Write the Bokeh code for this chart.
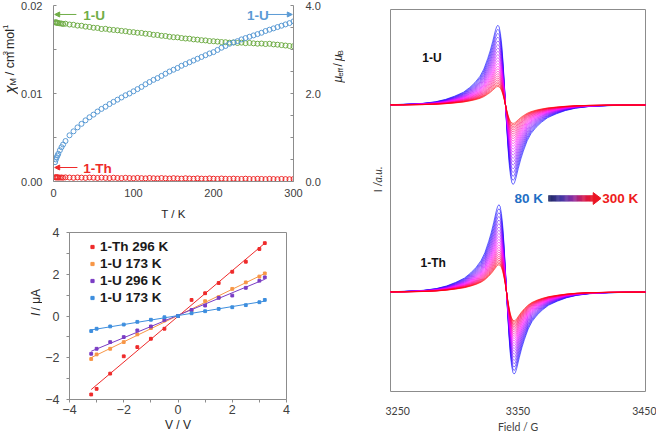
import numpy as np
from bokeh.core.properties import value
from bokeh.embed import file_html
from bokeh.layouts import column, row
from bokeh.models import (Arrow, FixedTicker, Label, Legend, LegendItem, LinearAxis,
                          NormalHead, PrintfTickFormatter, Range1d)
from bokeh.plotting import figure
from bokeh.resources import INLINE

# ---------------- magnetic data (T / K, chi_M / cm3 mol-1, mu_eff / mu_B) ----------------
temperature_K = [2, 3, 4, 5, 6, 8, 10, 12, 15, 20, 25,
                 30, 35, 40, 45, 50, 55, 60, 65, 70, 75, 80,
                 85, 90, 95, 100, 105, 110, 115, 120, 125, 130, 135,
                 140, 145, 150, 155, 160, 165, 170, 175, 180, 185, 190,
                 195, 200, 205, 210, 215, 220, 225, 230, 235, 240, 245,
                 250, 255, 260, 265, 270, 275, 280, 285, 290, 295, 300]

mu_eff_1U = [0.44, 0.50, 0.55, 0.59, 0.63, 0.71, 0.78, 0.84, 0.92, 1.05, 1.14,
             1.23, 1.31, 1.39, 1.46, 1.52, 1.59, 1.65, 1.70, 1.76, 1.81, 1.86,
             1.91, 1.96, 2.00, 2.05, 2.10, 2.15, 2.21, 2.26, 2.31, 2.35, 2.40,
             2.45, 2.50, 2.54, 2.58, 2.63, 2.67, 2.71, 2.75, 2.79, 2.83, 2.87,
             2.91, 2.94, 2.99, 3.04, 3.08, 3.13, 3.16, 3.19, 3.23, 3.26, 3.29,
             3.32, 3.35, 3.38, 3.42, 3.45, 3.48, 3.51, 3.54, 3.57, 3.60, 3.64]

chi_M_1U = [0.01810, 0.01805, 0.01808, 0.01802, 0.01800, 0.01797, 0.01795, 0.01790, 0.01793, 0.01784, 0.01781,
            0.01772, 0.01770, 0.01760, 0.01756, 0.01747, 0.01745, 0.01733, 0.01735, 0.01726, 0.01722, 0.01718,
            0.01712, 0.01708, 0.01700, 0.01697, 0.01690, 0.01688, 0.01680, 0.01676, 0.01667, 0.01665, 0.01656,
            0.01653, 0.01645, 0.01640, 0.01638, 0.01630, 0.01625, 0.01623, 0.01615, 0.01612, 0.01606, 0.01603,
            0.01596, 0.01594, 0.01590, 0.01585, 0.01583, 0.01578, 0.01580, 0.01574, 0.01578, 0.01572, 0.01575,
            0.01570, 0.01566, 0.01568, 0.01562, 0.01565, 0.01558, 0.01555, 0.01550, 0.01545, 0.01540, 0.01538]

chi_M_1Th = [0.00048, 0.00046, 0.00049, 0.00045, 0.00047, 0.00044, 0.00046, 0.00043, 0.00047, 0.00045, 0.00042,
             0.00046, 0.00044, 0.00041, 0.00045, 0.00043, 0.00040, 0.00044, 0.00041, 0.00039, 0.00043, 0.00040,
             0.00038, 0.00042, 0.00039, 0.00037, 0.00041, 0.00038, 0.00036, 0.00040, 0.00037, 0.00035, 0.00039,
             0.00036, 0.00034, 0.00038, 0.00035, 0.00033, 0.00037, 0.00034, 0.00032, 0.00036, 0.00033, 0.00031,
             0.00035, 0.00032, 0.00030, 0.00034, 0.00031, 0.00030, 0.00033, 0.00030, 0.00029, 0.00032, 0.00029,
             0.00028, 0.00031, 0.00029, 0.00027, 0.00030, 0.00028, 0.00026, 0.00029, 0.00027, 0.00026, 0.00028]

# ---------------- current-voltage curves (V / V, I / uA) ----------------
bias_V = [-3.2, -3.0, -2.5, -2.0, -1.5, -1.0, -0.5, 0.0, 0.5, 1.0, 1.5, 2.0, 2.5, 3.0, 3.2]
iv_labels = ["1-Th 296 K", "1-U 173 K", "1-U 296 K", "1-U 173 K"]
current_1Th_296K = [-3.76, -3.49, -2.76, -1.93, -1.49, -1.09, -0.61, 0.0, 0.77, 1.09, 1.58, 2.12, 2.60, 3.21, 3.49]
current_1U_173K_a = [-2.06, -1.84, -1.57, -1.25, -0.88, -0.58, -0.21, 0.0, 0.26, 0.71, 0.90, 1.30, 1.61, 1.89, 2.04]
current_1U_296K = [-1.81, -1.57, -1.25, -1.01, -0.69, -0.50, -0.18, 0.0, 0.29, 0.50, 0.87, 0.98, 1.35, 1.69, 1.85]
current_1U_173K_b = [-0.72, -0.61, -0.50, -0.41, -0.28, -0.18, -0.06, 0.0, 0.13, 0.23, 0.34, 0.42, 0.52, 0.66, 0.77]

# ---------------- variable-temperature EPR (field / G, intensity / a.u.) ----------------
epr_temperature_K = [80, 90, 100, 110, 120, 130, 140, 150, 160, 170, 180, 190,
                     200, 210, 220, 230, 240, 250, 260, 270, 280, 290, 300]
epr_1U_peak = [8.10, 7.69, 7.28, 6.89, 6.51, 6.14, 5.79, 5.45, 5.12, 4.80, 4.50, 4.21,
               3.93, 3.67, 3.42, 3.18, 2.95, 2.74, 2.54, 2.35, 2.18, 2.02, 1.88]
epr_1U_trough = [8.07, 7.65, 7.25, 6.86, 6.48, 6.11, 5.76, 5.42, 5.09, 4.78, 4.48, 4.19,
                 3.92, 3.66, 3.41, 3.17, 2.94, 2.73, 2.53, 2.35, 2.18, 2.02, 1.87]
epr_1Th_peak = [8.87, 8.46, 8.06, 7.68, 7.31, 6.95, 6.60, 6.27, 5.95, 5.64, 5.34, 5.06,
                4.79, 4.53, 4.28, 4.05, 3.83, 3.62, 3.43, 3.24, 3.07, 2.91, 2.77]
epr_1Th_trough = [8.33, 7.97, 7.62, 7.28, 6.95, 6.63, 6.32, 6.02, 5.74, 5.47, 5.21, 4.96,
                  4.72, 4.49, 4.27, 4.06, 3.86, 3.68, 3.51, 3.35, 3.20, 3.05, 2.92]
epr_center_1U_G = 3340.2
epr_center_1Th_G = 3341.0
# normalised first-derivative line profile versus distance from the centre field
profile_offset_G = [0, 1, 2, 3, 4, 5, 6, 7, 8, 10, 12, 14, 17, 20, 24, 28, 33, 40, 47, 55, 65, 80, 100, 120]
profile_value = [0.0, 0.29, 0.55, 0.76, 0.90, 0.98, 1.0, 0.98, 0.93, 0.80, 0.68, 0.58, 0.45, 0.36,
                 0.28, 0.22, 0.16, 0.11, 0.07, 0.04, 0.02, 0.008, 0.002, 0.0]

FONT = "Liberation Sans"
GREY = "#8c8c8c"
TICK_COLOR = "#404040"
TEXT = "#262626"
GREEN, BLUE, RED = "#70ad47", "#5b9bd5", "#ee2a2a"


def style_axis(ax, size="11px", font=FONT):
    ax.axis_line_color = GREY
    ax.major_tick_line_color = GREY
    ax.minor_tick_line_color = GREY
    ax.major_label_text_font = font
    ax.major_label_text_font_size = size
    ax.major_label_text_color = TICK_COLOR


def data_label(p, x, y, text, size, color, style="bold"):
    p.add_layout(Label(x=x, y=y, text=text, text_font=FONT, text_font_size=f"{size}px",
                       text_font_style=style, text_color=color, text_align="left",
                       text_baseline="middle"))


def title_strip(w, h):
    """Narrow text-only panel holding a rotated axis title."""
    s = figure(width=w, height=h, x_range=Range1d(0, w), y_range=Range1d(0, h),
               x_axis_type=None, y_axis_type=None, output_backend="svg",
               toolbar_location=None, min_border=0)
    s.outline_line_color = None
    s.grid.visible = False
    return s


def vertical_title(s, x, pieces, color=TEXT, font=FONT):
    """pieces: (text, size px, style, sideways shift px, start height px from the bottom)."""
    for text, size, style, shift, y in pieces:
        s.text(x=[x + shift], y=[y], text=[text], angle=np.pi / 2,
               text_font=value(font), text_font_size=value(f"{size}px"),
               text_font_style=value(style), text_color=color,
               text_align="left", text_baseline="middle")


# ======================= chi_M / mu_eff versus T =======================
p1 = figure(width=310, height=222, x_range=Range1d(0, 300), y_range=Range1d(0, 0.02),
            output_backend="svg", toolbar_location=None,
            min_border_left=34, min_border_right=35, min_border_top=5, min_border_bottom=41)
p1.extra_y_ranges = {"mu": Range1d(0, 4)}
p1.add_layout(LinearAxis(y_range_name="mu"), "right")
p1.outline_line_color = None
p1.grid.visible = False
for ax in p1.axis:
    style_axis(ax)

xa = p1.below[0]
xa.ticker = FixedTicker(ticks=[0, 100, 200, 300])
xa.major_tick_in = xa.major_tick_out = xa.minor_tick_in = xa.minor_tick_out = 0
xa.major_label_standoff = 7
xa.axis_label = "T / K"
xa.axis_label_text_font = FONT
xa.axis_label_text_font_size = "11.5px"
xa.axis_label_text_font_style = "normal"
xa.axis_label_text_color = TEXT
xa.axis_label_standoff = 8

left = p1.left[0]
left.ticker = FixedTicker(ticks=[0, 0.01, 0.02], minor_ticks=[0.005, 0.015])
left.formatter = PrintfTickFormatter(format="%.2f")
left.major_tick_in = left.minor_tick_in = 3
left.major_tick_out = left.minor_tick_out = 0
left.major_label_standoff = 11

right = p1.right[0]
right.ticker = FixedTicker(ticks=[0, 2, 4], minor_ticks=[0.5, 1, 1.5, 2.5, 3, 3.5])
right.formatter = PrintfTickFormatter(format="%.1f")
right.major_tick_in = right.minor_tick_in = 3
right.major_tick_out = right.minor_tick_out = 0
right.major_label_standoff = 12

p1.scatter(temperature_K, chi_M_1U, marker="circle", size=5, line_color=GREEN,
           fill_color=None, line_width=1)
p1.scatter(temperature_K, mu_eff_1U, y_range_name="mu", marker="circle", size=5,
           line_color=BLUE, fill_color=None, line_width=1)
p1.scatter(temperature_K, chi_M_1Th, marker="circle", size=5, line_color=RED,
           fill_color=None, line_width=1)

for col, xs, xe, yy in [(GREEN, 28.6, 1.5, 0.01898), (BLUE, 267.6, 298.5, 0.01898),
                        (RED, 29.9, 1.5, 0.00159)]:
    p1.add_layout(Arrow(x_start=xs, y_start=yy, x_end=xe, y_end=yy, line_color=col, line_width=1,
                        end=NormalHead(size=5, fill_color=col, line_color=col, line_width=1)))
data_label(p1, 37.3, 0.01892, "1-U", 13.5, GREEN)
data_label(p1, 242.0, 0.01892, "1-U", 13.5, BLUE)
data_label(p1, 37.3, 0.00150, "1-Th", 13.5, RED)

chi_title = title_strip(18, 222)
vertical_title(chi_title, 9, [("χ", 15, "italic", 0, 111), ("M", 9, "normal", 3, 121),
                              ("/ cm", 12.5, "normal", 0, 134), ("3", 8, "normal", -4.5, 159),
                              ("mol", 12.5, "normal", 0, 167), ("-1", 8, "normal", -4.5, 189)])
mu_title = title_strip(17, 222)
vertical_title(mu_title, 9, [("μ", 12, "italic", 0, 125), ("eff", 8, "normal", 3, 132),
                             ("/", 12, "normal", 0, 145), ("μ", 12, "italic", 0, 152),
                             ("B", 8, "normal", 3, 159)])

# ======================= I-V curves =======================
p2 = figure(width=303, height=213, x_range=Range1d(-4, 4), y_range=Range1d(-4, 4),
            output_backend="svg", toolbar_location=None,
            min_border_left=23, min_border_right=59, min_border_top=10, min_border_bottom=36)
p2.outline_line_color = GREY
p2.grid.visible = False
for ax in p2.axis:
    style_axis(ax, "12.5px")
    ax.ticker = FixedTicker(ticks=[-4, -2, 0, 2, 4], minor_ticks=[-3, -1, 1, 3])
    ax.major_tick_in = ax.minor_tick_in = 0
    ax.major_tick_out = ax.minor_tick_out = 3
p2.xaxis.major_label_standoff = 2
p2.yaxis.major_label_standoff = 7
p2.xaxis.axis_label = "V / V"
p2.xaxis.axis_label_text_font = FONT
p2.xaxis.axis_label_text_font_size = "12px"
p2.xaxis.axis_label_text_font_style = "normal"
p2.xaxis.axis_label_text_color = TEXT
p2.xaxis.axis_label_standoff = 1

iv_series = [current_1Th_296K, current_1U_173K_a, current_1U_296K, current_1U_173K_b]
iv_colors = ["#ee2a2a", "#f79646", "#7a3cc4", "#3d8ede"]
v = np.array(bias_V)
markers = []
for cur, col in zip(iv_series, iv_colors):
    slope, icpt = np.polyfit(v, np.array(cur), 1)
    p2.line([v.min(), v.max()], [slope * v.min() + icpt, slope * v.max() + icpt],
            line_color=col, line_width=1)
    markers.append(p2.scatter(bias_V, cur, marker="square", size=2.8, color=col))

legend = Legend(items=[LegendItem(label=lab, renderers=[r]) for lab, r in zip(iv_labels, markers)],
                location=(19, 93), orientation="vertical", glyph_width=8, glyph_height=17,
                label_height=17, spacing=0, padding=0, margin=0, label_standoff=4,
                border_line_color=None, background_fill_alpha=0,
                label_text_font=FONT, label_text_font_size="13.5px",
                label_text_font_style="bold", label_text_color="#1a1a1a")
p2.add_layout(legend)

iv_title = title_strip(42, 213)
vertical_title(iv_title, 35, [("I", 12, "italic", 0, 106.5), ("/ μA", 12, "normal", 0, 113.5)])

# ======================= EPR spectra =======================
p3 = figure(width=271, height=435, x_range=Range1d(3250, 3450), y_range=Range1d(-29.0, 9.8),
            output_backend="svg", toolbar_location=None,
            min_border_left=5, min_border_right=11, min_border_top=9, min_border_bottom=38)
p3.outline_line_color = GREY
p3.grid.visible = False
p3.yaxis.visible = False
xa3 = p3.xaxis[0]
style_axis(xa3, "10.5px", font="Lato")
xa3.axis_line_color = None
xa3.major_tick_line_color = None
xa3.minor_tick_line_color = None
xa3.ticker = FixedTicker(ticks=[3250, 3350, 3450])
xa3.major_label_standoff = 9
xa3.axis_label = "Field / G"
xa3.axis_label_text_font = "Lato"
xa3.axis_label_text_font_size = "10.5px"
xa3.axis_label_text_font_style = "normal"
xa3.axis_label_text_color = TICK_COLOR
xa3.axis_label_standoff = 3

offsets = np.array(profile_offset_G, dtype=float)
shape = np.array(profile_value)


def spectrum(center, base, peak, trough):
    x = np.concatenate([center - offsets[::-1], center + offsets[1:]])
    y = np.concatenate([base + peak * shape[::-1], base - trough * shape[1:]])
    return x, y


def ramp(t):
    f = (t - epr_temperature_K[0]) / (epr_temperature_K[-1] - epr_temperature_K[0])
    r = int(round(255 * min(1.0, 2 * f)))
    b = int(round(255 * min(1.0, 2 * (1 - f))))
    return f"#{r:02x}00{b:02x}"


for i, t in enumerate(epr_temperature_K):
    col = ramp(t)
    x, y = spectrum(epr_center_1U_G, 0.1, epr_1U_peak[i], epr_1U_trough[i])
    p3.line(x, y, line_color=col, line_width=0.6)
    x, y = spectrum(epr_center_1Th_G, -18.9, epr_1Th_peak[i], epr_1Th_trough[i])
    p3.line(x, y, line_color=col, line_width=0.6)

# temperature arrow: navy -> purple -> red
stops = [(0.0, (30, 40, 95)), (0.3, (70, 55, 165)), (0.55, (140, 45, 160)),
         (0.8, (215, 25, 75)), (1.0, (235, 20, 35))]


def blend(f):
    for (f0, c0), (f1, c1) in zip(stops[:-1], stops[1:]):
        if f <= f1:
            w = (f - f0) / (f1 - f0)
            return "#%02x%02x%02x" % tuple(int(round(a + (b - a) * w)) for a, b in zip(c0, c1))
    return "#%02x%02x%02x" % stops[-1][1]


n_seg = 40
edges = np.linspace(3373.7, 3409.2, n_seg + 1)
p3.quad(left=edges[:-1], right=edges[1:] + 0.3, bottom=-9.70, top=-9.07,
        fill_color=[blend((k + 0.5) / n_seg) for k in range(n_seg)], line_color=None)
p3.patch([3409.0, 3415.1, 3409.0], [-8.8, -9.385, -10.0], fill_color="#eb1423", line_color="#eb1423")
data_label(p3, 3347.3, -9.37, "80 K", 13.5, "#1f6fc5")
data_label(p3, 3416.0, -9.37, "300 K", 13.5, "#ee1c1c")
data_label(p3, 3274.9, 4.85, "1-U", 12, "#111111")
data_label(p3, 3273.5, -15.97, "1-Th", 12, "#111111")

epr_title = title_strip(40, 435)
vertical_title(epr_title, 32, [("I /", 10.5, "normal", 0, 227), ("a.u.", 10.5, "italic", 0, 238)],
               color=TICK_COLOR, font="Lato")

layout = row(column(row(chi_title, p1, mu_title), row(iv_title, p2)), epr_title, p3)
open("out.html", "w").write(file_html(layout, INLINE))
